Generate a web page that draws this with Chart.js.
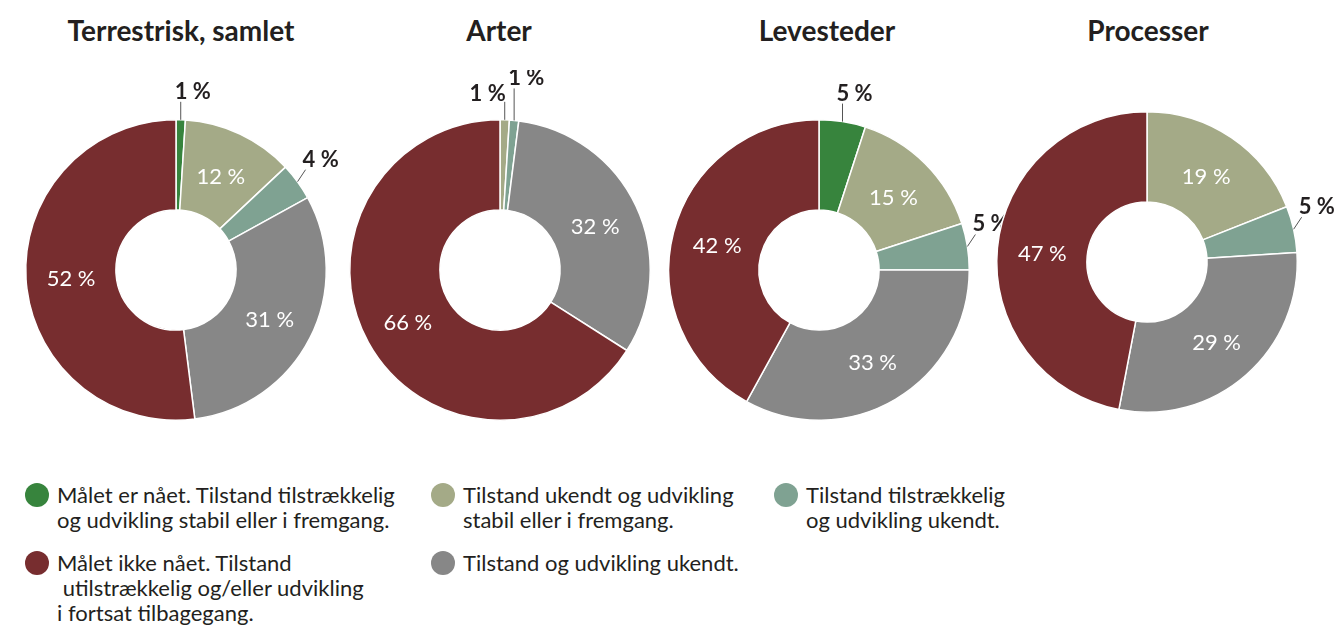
<!DOCTYPE html>
<html>
<head>
<meta charset="utf-8">
<script src="https://cdn.jsdelivr.net/npm/chart.js@4/dist/chart.umd.min.js"></script>
<style>
  body { margin: 0; background: #fff; }
  #wrap { position: relative; width: 1342px; height: 625px; overflow: hidden; font-family: Lato, sans-serif; color: #231f20; }
  .title { position: absolute; top: 12px; width: 340px; margin-left: -170px; text-align: center; font-weight: bold; font-size: 28px; line-height: 36px; }
  canvas.pie { position: absolute; }
  .leg { position: absolute; font-size: 22px; line-height: 25px; white-space: pre; }
  .leg .dot { position: absolute; left: -32px; top: 1px; width: 24px; height: 24px; border-radius: 50%; }
</style>
</head>
<body>
<div id="wrap"></div>
<script>
// kategorier (samme rækkefølge i alle fire diagrammer, med uret fra toppen)
const categories = [
  'Målet er nået. Tilstand tilstrækkelig\nog udvikling stabil eller i fremgang.',
  'Tilstand ukendt og udvikling\nstabil eller i fremgang.',
  'Tilstand tilstrækkelig\nog udvikling ukendt.',
  'Tilstand og udvikling ukendt.',
  'Målet ikke nået. Tilstand\n utilstrækkelig og/eller udvikling\ni fortsat tilbagegang.'
];
const colors = ['#37843d', '#a4aa87', '#7fa292', '#878787', '#772d2f'];

const chartTitles = ['Terrestrisk, samlet', 'Arter', 'Levesteder', 'Processer'];
const terrestriskValues = [1, 12, 4, 31, 52];
const arterValues = [0, 1, 1, 32, 66];
const levestederValues = [5, 15, 5, 33, 42];
const processerValues = [0, 19, 5, 29, 47];

const seriesList = [terrestriskValues, arterValues, levestederValues, processerValues];
const centers = [[176, 270], [500, 270], [819, 270], [1147, 262]];
const titleX = [181, 499, 827, 1148];
const legendPos = [[57, 482], [463, 482], [806, 482], [463, 550], [57, 550]];

const wrap = document.getElementById('wrap');

// procent-etiketter: store inde i ringen, små udenfor med streg
const pctLabels = {
  id: 'pctLabels',
  afterDatasetsDraw(chart) {
    const ctx = chart.ctx;
    const meta = chart.getDatasetMeta(0);
    const values = chart.data.datasets[0].data;
    const isTopSmall = (j) => {
      if (j < 0 || j >= values.length) return false;
      const v = values[j];
      if (!v || v >= 10) return false;
      const a = meta.data[j];
      return (a.startAngle + a.endAngle) / 2 + Math.PI / 2 < 0.35;
    };
    ctx.save();
    meta.data.forEach((arc, i) => {
      const v = values[i];
      if (!v) return;
      const text = v + ' %';
      if (v >= 10) {
        const pos = arc.tooltipPosition(true);
        ctx.font = '22px Lato';
        ctx.fillStyle = '#fff';
        ctx.textAlign = 'center';
        ctx.textBaseline = 'middle';
        ctx.fillText(text, pos.x, pos.y + 2);
        return;
      }
      const { x, y, startAngle, endAngle, outerRadius } = arc;
      const mid = (startAngle + endAngle) / 2;
      const px = x + Math.cos(mid) * outerRadius;
      const py = y + Math.sin(mid) * outerRadius;
      ctx.font = 'bold 22px Lato';
      ctx.strokeStyle = '#555';
      ctx.lineWidth = 1;
      ctx.fillStyle = '#231f20';
      ctx.textBaseline = 'alphabetic';
      if (isTopSmall(i)) {
        const stacked = isTopSmall(i - 1);
        const len = stacked ? 32 : 18;
        ctx.beginPath();
        ctx.moveTo(px, py);
        ctx.lineTo(px, py - len);
        ctx.stroke();
        if (isTopSmall(i + 1)) {
          ctx.textAlign = 'right';
          ctx.fillText(text, px + 1, py - len - 1);
        } else {
          ctx.textAlign = 'left';
          ctx.fillText(text, px - 6, py - len - 3);
        }
      } else {
        const ex = px + 8, ey = py - 12;
        ctx.beginPath();
        ctx.moveTo(px, py);
        ctx.lineTo(ex, ey);
        ctx.stroke();
        ctx.textAlign = 'left';
        ctx.fillText(text, ex - 3, ey - 3);
      }
    });
    ctx.restore();
  }
};

seriesList.forEach((values, k) => {
  const [cx, cy] = centers[k];

  const t = document.createElement('div');
  t.className = 'title';
  t.style.left = titleX[k] + 'px';
  t.textContent = chartTitles[k];
  wrap.appendChild(t);

  const cv = document.createElement('canvas');
  cv.className = 'pie';
  cv.width = 400;
  cv.height = 400;
  cv.style.left = (cx - 200) + 'px';
  cv.style.top = (cy - 200) + 'px';
  wrap.appendChild(cv);

  new Chart(cv.getContext('2d'), {
    type: 'doughnut',
    data: {
      labels: categories,
      datasets: [{
        data: values,
        backgroundColor: colors,
        borderColor: '#fff',
        borderWidth: 1.5
      }]
    },
    options: {
      responsive: false,
      animation: false,
      cutout: '40%',
      layout: { padding: 49 },
      plugins: {
        legend: { display: false },
        tooltip: { enabled: false }
      }
    },
    plugins: [pctLabels]
  });
});

// forklaring
categories.forEach((label, i) => {
  const d = document.createElement('div');
  d.className = 'leg';
  d.style.left = legendPos[i][0] + 'px';
  d.style.top = legendPos[i][1] + 'px';
  d.textContent = label;
  const dot = document.createElement('span');
  dot.className = 'dot';
  dot.style.background = colors[i];
  d.appendChild(dot);
  wrap.appendChild(d);
});
</script>
</body>
</html>
